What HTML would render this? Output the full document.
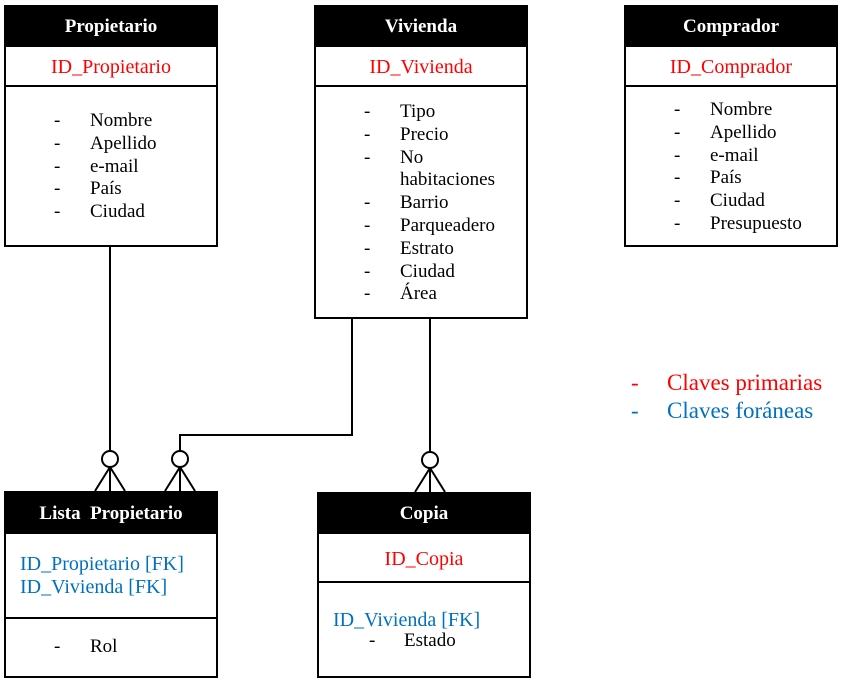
<!DOCTYPE html>
<html><head><meta charset="utf-8"><style>
body{margin:0;width:843px;height:685px;background:#fff;position:relative;overflow:hidden;font-family:"Liberation Serif",serif;font-size:19px;color:#000}
.b{position:absolute;border:2px solid #000;box-sizing:border-box}
.h{position:absolute;left:0;right:0;top:0;background:#000;color:#fff;text-align:center;font-weight:bold;font-size:19px}
.s{position:absolute;left:0;right:0;border-top:2px solid #000}
.t{position:absolute;white-space:nowrap;line-height:20px}
.r{color:#f00;font-size:20px}.bl{color:#0070C0;font-size:20px}
</style></head><body>
<svg width="843" height="685" style="position:absolute;left:0;top:0" fill="none" stroke="#000" stroke-width="2">
<line x1="110" y1="246" x2="110" y2="451"/>
<circle cx="110" cy="459" r="8" fill="#fff"/>
<path d="M110 467 L95 491 M110 467 L110 491 M110 467 L125 491"/>
<path d="M352 318 L352 435 L180 435 L180 451"/>
<circle cx="180" cy="459" r="8" fill="#fff"/>
<path d="M180 467 L165 491 M180 467 L180 491 M180 467 L195 491"/>
<line x1="430" y1="318" x2="430" y2="452"/>
<circle cx="430" cy="460" r="8" fill="#fff"/>
<path d="M430 468 L415 492 M430 468 L430 492 M430 468 L445 492"/>
</svg>

<div class="b" style="left:4px;top:5px;width:214px;height:242px">
<div class="h" style="height:40px;line-height:40px">Propietario</div>
<div class="s" style="top:78px"></div>
<div class="t r" style="left:0;right:0;text-align:center;top:50px">ID_Propietario</div>
</div>
<div class="t" style="left:90px;top:110px;line-height:22.8px">Nombre<br>Apellido<br>e-mail<br>País<br>Ciudad</div>
<div class="t" style="left:54px;top:110px;line-height:22.8px">-<br>-<br>-<br>-<br>-</div>

<div class="b" style="left:314px;top:5px;width:214px;height:314px">
<div class="h" style="height:40px;line-height:40px">Vivienda</div>
<div class="s" style="top:78px"></div>
<div class="t r" style="left:0;right:0;text-align:center;top:50px">ID_Vivienda</div>
</div>
<div class="t" style="left:364px;top:101px;line-height:22.8px">-<br>-<br>-<br><br>-<br>-<br>-<br>-<br>-</div>
<div class="t" style="left:400px;top:101px;line-height:22.8px">Tipo<br>Precio<br>No<br>habitaciones<br>Barrio<br>Parqueadero<br>Estrato<br>Ciudad<br>Área</div>

<div class="b" style="left:624px;top:5px;width:214px;height:242px">
<div class="h" style="height:40px;line-height:40px">Comprador</div>
<div class="s" style="top:78px"></div>
<div class="t r" style="left:0;right:0;text-align:center;top:50px">ID_Comprador</div>
</div>
<div class="t" style="left:674px;top:99px;line-height:22.8px">-<br>-<br>-<br>-<br>-<br>-</div>
<div class="t" style="left:710px;top:99px;line-height:22.8px">Nombre<br>Apellido<br>e-mail<br>País<br>Ciudad<br>Presupuesto</div>

<div class="t" style="left:631px;top:373px;font-size:23px;color:#f00">-</div>
<div class="t" style="left:667px;top:373px;font-size:23px;color:#f00">Claves primarias</div>
<div class="t" style="left:631px;top:401px;font-size:23px;color:#0070C0">-</div>
<div class="t" style="left:667px;top:401px;font-size:23px;color:#0070C0">Claves foráneas</div>

<div class="b" style="left:4px;top:491px;width:214px;height:187px">
<div class="h" style="height:41px;line-height:41px">Lista&nbsp; Propietario</div>
<div class="s" style="top:124px"></div>
</div>
<div class="t bl" style="left:20px;top:553px;line-height:23px">ID_Propietario [FK]<br>ID_Vivienda [FK]</div>
<div class="t" style="left:54px;top:637px">-</div>
<div class="t" style="left:90px;top:637px">Rol</div>

<div class="b" style="left:317px;top:492px;width:214px;height:186px">
<div class="h" style="height:40px;line-height:40px">Copia</div>
<div class="s" style="top:87px"></div>
<div class="t r" style="left:0;right:0;text-align:center;top:55px">ID_Copia</div>
</div>
<div class="t bl" style="left:333px;top:610px">ID_Vivienda [FK]</div>
<div class="t" style="left:369px;top:631px">-</div>
<div class="t" style="left:404px;top:631px">Estado</div>
</body></html>
